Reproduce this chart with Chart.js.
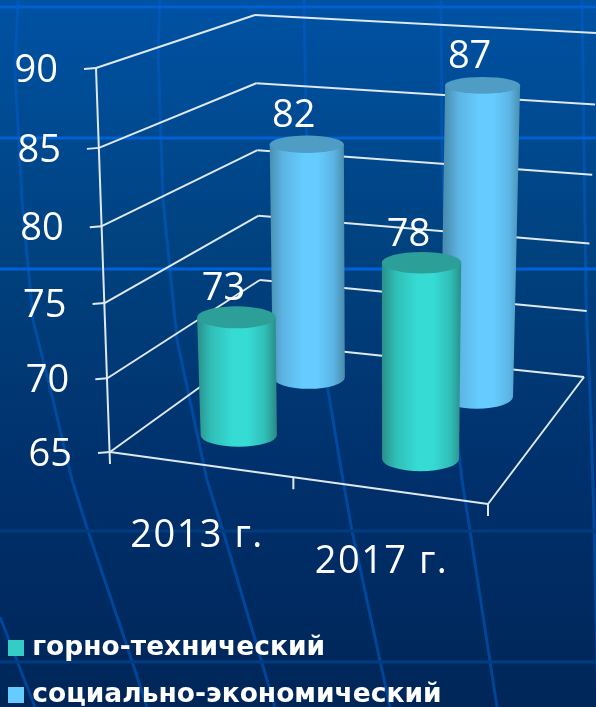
<!DOCTYPE html>
<html>
<head>
<meta charset="utf-8">
<title>chart</title>
<script src="https://cdn.jsdelivr.net/npm/chart.js@4"></script>
<style>
  html, body { margin: 0; padding: 0; background: #00245a; overflow: hidden; }
  canvas { display: block; }
</style>
</head>
<body>
<canvas id="barChart" width="596" height="707"></canvas>
<script>
const categories = ['2013 г.', '2017 г.'];
const miningValues = [73, 78];
const socialValues = [82, 87];
const seriesNames = ['горно-технический', 'социально-экономический'];
const yTicks = [65, 70, 75, 80, 85, 90];

const LABEL_FONT = '38px "Open Sans"';
const GRID_COLOR = '#dfe8ef';

// corners of the 3D box on screen
const box = {
    flb: [110, 452], frb: [488, 504], blb: [261, 343], brb: [584, 377],
    flt: [96, 68], frt: [492, 104], blt: [255, 15], brt: [598, 33]
};

function lerp(a, b, t) {
    return [a[0] + (b[0] - a[0]) * t, a[1] + (b[1] - a[1]) * t];
}

// u along the categories, v up the value axis, w into the depth
function project(u, v, w) {
    let bottom = lerp(lerp(box.flb, box.frb, u), lerp(box.blb, box.brb, u), w);
    let top = lerp(lerp(box.flt, box.frt, u), lerp(box.blt, box.brt, u), w);
    // slight foreshortening towards the floor
    return lerp(bottom, top, v - 0.05 * v * (1 - v));
}

function line(ctx, a, b) {
    ctx.beginPath();
    ctx.moveTo(a[0], a[1]);
    ctx.lineTo(b[0], b[1]);
    ctx.stroke();
}

function drawBackground(ctx) {
    let g = ctx.createLinearGradient(0, 0, 0, 707);
    g.addColorStop(0, '#0052a4');
    g.addColorStop(0.35, '#00427f');
    g.addColorStop(0.7, '#002f6a');
    g.addColorStop(1, '#002658');
    ctx.fillStyle = g;
    ctx.fillRect(0, 0, 596, 707);

    let meridians = [
        [[0, 617], [35, 707]],
        [[18, 0], [15, 70], [22, 200], [33, 320], [53, 400], [72, 480], [88, 531], [125, 640], [147, 707]],
        [[160, 0], [158, 50], [163, 200], [177, 340], [192, 410], [207, 480], [223, 531], [275, 707]],
        [[304, 0], [306, 120], [318, 320], [328, 390], [343, 480], [352, 531], [390, 707]],
        [[441, 0], [442, 150], [450, 380], [462, 480], [470, 531], [497, 707]],
        [[582, 0], [584, 150], [586, 300], [591, 420], [594, 520], [598, 707]]
    ];
    ctx.strokeStyle = 'rgba(0, 92, 200, 0.55)';
    ctx.lineWidth = 3;
    ctx.lineJoin = 'round';
    meridians.forEach(function (m) {
        ctx.beginPath();
        m.forEach(function (p, i) {
            if (i === 0) ctx.moveTo(p[0], p[1]);
            else ctx.lineTo(p[0], p[1]);
        });
        ctx.stroke();
    });

    [[7, '#0060cf'], [138, '#0060d4'], [269, '#0062da'], [531, '#003d80'], [662, '#003d80']].forEach(function (h) {
        ctx.fillStyle = h[1];
        ctx.fillRect(0, h[0] - 1.5, 596, 3);
    });
}

function drawWalls(ctx, chart) {
    let y = chart.scales.y;
    let area = chart.chartArea;
    ctx.strokeStyle = GRID_COLOR;
    ctx.lineWidth = 2;

    yTicks.forEach(function (t) {
        let v = (area.bottom - y.getPixelForValue(t)) / (area.bottom - area.top);
        let front = project(0, v, 0);
        line(ctx, [front[0] - 12, front[1] + 1], front);
        line(ctx, front, project(0, v, 1));
        line(ctx, project(0, v, 1), project(1, v, 1));
    });
    line(ctx, project(0, 1, 0), [box.flb[0], box.flb[1] + 12]);

    // floor
    line(ctx, box.flb, box.frb);
    line(ctx, box.frb, box.brb);
    [0.485, 1].forEach(function (u) {
        let p = project(u, 0, 0);
        line(ctx, p, [p[0], p[1] + 12]);
    });
}

function drawCylinder(ctx, chart, bar, w, colors) {
    let area = chart.chartArea;
    let u = (bar.x - area.left) / area.width - 0.004;
    let du = bar.width / 2 / area.width;
    let vTop = (area.bottom - bar.y) / area.height + 0.007;
    let top = project(u, vTop, w);
    let base = project(u, 0, w);
    let rxTop = (project(u + du, vTop, w)[0] - project(u - du, vTop, w)[0]) / 2;
    let rxBase = rxTop * 0.97;
    let ryTop = Math.abs(project(u, vTop, 0)[1] - project(u, vTop, 1)[1]) * 0.115;
    let ryBase = Math.abs(project(u, 0, 0)[1] - project(u, 0, 1)[1]) * 0.1;

    let g = ctx.createLinearGradient(top[0] - rxTop, 0, top[0] + rxTop, 0);
    g.addColorStop(0, colors[1]);
    g.addColorStop(0.18, colors[2]);
    g.addColorStop(0.46, colors[0]);
    g.addColorStop(0.64, colors[0]);
    g.addColorStop(0.86, colors[2]);
    g.addColorStop(1, colors[1]);

    ctx.fillStyle = g;
    ctx.beginPath();
    ctx.moveTo(top[0] - rxTop, top[1]);
    ctx.lineTo(base[0] - rxBase, base[1]);
    ctx.ellipse(base[0], base[1], rxBase, ryBase, 0, Math.PI, 0, true);
    ctx.lineTo(top[0] + rxTop, top[1]);
    ctx.closePath();
    ctx.fill();

    ctx.fillStyle = colors[3];
    ctx.beginPath();
    ctx.ellipse(top[0], top[1], rxTop, ryTop, 0, 0, Math.PI * 2);
    ctx.fill();

    return top;
}

const cylinderColors = [
    ['#36dcd4', '#2a8f8a', '#30bfb8', '#2c9f98'],
    ['#66ccff', '#4a8fb0', '#5cb5e4', '#4f9cc4']
];

// square legend marker, a canvas so that the text can sit closer to it
function legendSquare(color) {
    let c = document.createElement('canvas');
    c.width = 16;
    c.height = 16;
    let cx = c.getContext('2d');
    cx.fillStyle = color;
    cx.fillRect(0, 0, 16, 16);
    return c;
}

const scenePlugin = {
    id: 'scene',
    beforeDraw: function (chart) {
        drawBackground(chart.ctx);
    },
    beforeDatasetDraw: function () {
        return false;
    },
    afterDatasetsDraw: function (chart) {
        let ctx = chart.ctx;
        let area = chart.chartArea;
        drawWalls(ctx, chart);

        let tops = [];
        // back row first
        for (let d = chart.data.datasets.length - 1; d >= 0; d--) {
            chart.getDatasetMeta(d).data.forEach(function (bar, i) {
                let top = drawCylinder(ctx, chart, bar, 0.26 + 0.51 * d, cylinderColors[d]);
                tops.push({ x: top[0], y: top[1], text: chart.data.datasets[d].data[i] });
            });
        }

        ctx.fillStyle = '#ffffff';
        ctx.font = LABEL_FONT;
        ctx.textAlign = 'center';
        ctx.textBaseline = 'middle';
        tops.forEach(function (t) {
            ctx.fillText(t.text, t.x - 13, t.y - 28);
        });

        // value axis labels follow the slanted axis
        ctx.textAlign = 'right';
        let y = chart.scales.y;
        yTicks.forEach(function (t) {
            let v = (area.bottom - y.getPixelForValue(t)) / area.height;
            let p = project(0, v, 0);
            ctx.fillText(t, p[0] - 38, p[1] + 3);
        });

        // category labels under the front edge
        ctx.textAlign = 'center';
        ctx.letterSpacing = '1.5px';
        let x = chart.scales.x;
        categories.forEach(function (c, i) {
            let u = (x.getPixelForValue(i) - area.left) / area.width;
            let p = project(u, 0, 0);
            ctx.fillText(c, p[0] - 7.5 - 4.5 * i, p[1] + 71);
        });
        ctx.letterSpacing = '0px';
    }
};

new Chart(document.getElementById('barChart'), {
    type: 'bar',
    data: {
        labels: categories,
        datasets: [
            { label: seriesNames[0], data: miningValues, backgroundColor: '#33ccc6', barPercentage: 0.85, categoryPercentage: 0.5 },
            { label: seriesNames[1], data: socialValues, backgroundColor: '#66ccff', barPercentage: 0.85, categoryPercentage: 0.5 }
        ]
    },
    options: {
        responsive: false,
        animation: false,
        layout: { padding: { top: 68, right: 108, bottom: -11.5, left: -8 } },
        scales: {
            x: {
                stacked: true,
                grid: { display: false },
                border: { display: false },
                ticks: { display: false },
                afterFit: function (scale) { scale.height = 149.5; }
            },
            y: {
                min: 65,
                max: 90,
                ticks: { display: false, stepSize: 5 },
                grid: { display: false },
                border: { display: false },
                afterFit: function (scale) { scale.width = 118; }
            }
        },
        plugins: {
            tooltip: { enabled: false },
            legend: {
                position: 'bottom',
                align: 'start',
                onClick: null,
                labels: {
                    color: '#ffffff',
                    usePointStyle: true,
                    pointStyleWidth: 6,
                    boxHeight: 16,
                    padding: 21,
                    font: { family: '"DejaVu Sans"', weight: 'bold', size: 26.5 },
                    generateLabels: function (chart) {
                        let items = Chart.defaults.plugins.legend.labels.generateLabels(chart);
                        items.forEach(function (item) {
                            item.pointStyle = legendSquare(item.fillStyle);
                        });
                        return items;
                    }
                }
            }
        }
    },
    plugins: [scenePlugin]
});
</script>
</body>
</html>
